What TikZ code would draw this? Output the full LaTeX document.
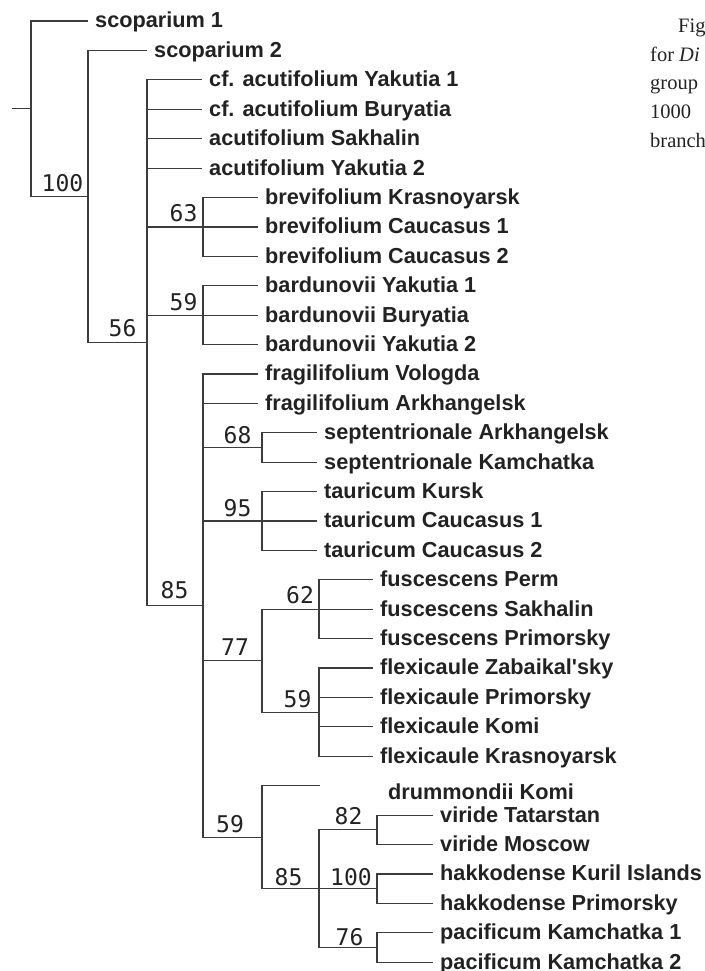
\documentclass[tikz,border=0pt]{standalone}
\usepackage{fontspec}
\newfontfamily\taxonfont{Liberation Sans}[Ligatures=TeXOff]
\newfontfamily\supportfont{DejaVu Sans Mono}
\newfontfamily\notefont{Liberation Serif}
\definecolor{inkgray}{HTML}{3C3C3C}
\definecolor{textblack}{HTML}{222222}

\begin{document}
\begin{tikzpicture}[x=1pt,y=-1pt]
\tikzset{
  taxon/.style={anchor=west,inner xsep=7pt,inner ysep=0pt,text height=17.4pt,text depth=3.5pt,
    font=\taxonfont\bfseries\fontsize{21.7}{24}\selectfont,text=textblack},
  support/.style={inner sep=0pt,font=\supportfont\fontsize{23}{26}\selectfont,text=textblack},
  note/.style={anchor=base west,inner sep=0pt,font=\notefont\fontsize{20.5}{24}\selectfont,text=textblack},
  branch/.style={draw=inkgray,line width=1.2pt}
}
\useasboundingbox (0,0) rectangle (704,971);
% internal nodes
\coordinate (n_stub) at (12,108.8);
\coordinate (n_root) at (31,108.8);
\coordinate (n_b100) at (88,196.5);
\coordinate (n_b56) at (147,342.6);
\coordinate (n_b63) at (203,226.9);
\coordinate (n_b59a) at (203,315.1);
\coordinate (n_b85a) at (203,605.5);
\coordinate (n_b68) at (262,447.4);
\coordinate (n_b95) at (262,521.0);
\coordinate (n_b77) at (262,660.7);
\coordinate (n_b62) at (319,609.2);
\coordinate (n_b59b) at (319,712.1);
\coordinate (n_b59c) at (262,837.1);
\coordinate (n_b85b) at (319,888.6);
\coordinate (n_b82) at (377,829.8);
\coordinate (n_b100b) at (377,888.6);
\coordinate (n_b76) at (377,947.4);
% taxa
\node[taxon] (t_scop1) at (88,21) {scoparium 1};
\node[taxon] (t_scop2) at (147,50.4) {scoparium 2};
\node[taxon] (t_acut1) at (202,79.8) {cf. acutifolium Yakutia 1};
\node[taxon] (t_acut2) at (202,109.2) {cf. acutifolium Buryatia};
\node[taxon] (t_acut3) at (202,138.6) {acutifolium Sakhalin};
\node[taxon] (t_acut4) at (202,168.1) {acutifolium Yakutia 2};
\node[taxon] (t_brev1) at (258,197.5) {brevifolium Krasnoyarsk};
\node[taxon] (t_brev2) at (258,226.9) {brevifolium Caucasus 1};
\node[taxon] (t_brev3) at (258,256.3) {brevifolium Caucasus 2};
\node[taxon] (t_bard1) at (258,285.7) {bardunovii Yakutia 1};
\node[taxon] (t_bard2) at (258,315.1) {bardunovii Buryatia};
\node[taxon] (t_bard3) at (258,344.5) {bardunovii Yakutia 2};
\node[taxon] (t_frag1) at (258,373.9) {fragilifolium Vologda};
\node[taxon] (t_frag2) at (258,403.3) {fragilifolium Arkhangelsk};
\node[taxon] (t_sept1) at (317,432.7) {septentrionale Arkhangelsk};
\node[taxon] (t_sept2) at (317,462.2) {septentrionale Kamchatka};
\node[taxon] (t_taur1) at (317,491.6) {tauricum Kursk};
\node[taxon] (t_taur2) at (317,521.0) {tauricum Caucasus 1};
\node[taxon] (t_taur3) at (317,550.4) {tauricum Caucasus 2};
\node[taxon] (t_fusc1) at (373,579.8) {fuscescens Perm};
\node[taxon] (t_fusc2) at (373,609.2) {fuscescens Sakhalin};
\node[taxon] (t_fusc3) at (373,638.6) {fuscescens Primorsky};
\node[taxon] (t_flex1) at (373,668.0) {flexicaule Zabaikal'sky};
\node[taxon] (t_flex2) at (373,697.4) {flexicaule Primorsky};
\node[taxon] (t_flex3) at (373,726.8) {flexicaule Komi};
\node[taxon] (t_flex4) at (373,756.3) {flexicaule Krasnoyarsk};
\coordinate (e_drum) at (320,785.7);
\node[taxon] (t_drum) at (381,792.7) {drummondii Komi};
\node[taxon] (t_viri1) at (433,815.1) {viride Tatarstan};
\node[taxon] (t_viri2) at (433,844.5) {viride Moscow};
\node[taxon] (t_hakk1) at (433,873.9) {hakkodense Kuril Islands};
\node[taxon] (t_hakk2) at (433,903.3) {hakkodense Primorsky};
\node[taxon] (t_paci1) at (433,932.7) {pacificum Kamchatka 1};
\node[taxon] (t_paci2) at (433,962.1) {pacificum Kamchatka 2};
% branches
\draw[branch] (n_stub) -- (n_root);
\draw[branch] (n_root) |- (t_scop1.west);
\draw[branch] (n_root) |- (n_b100);
\draw[branch] (n_b100) |- (t_scop2.west);
\draw[branch] (n_b100) |- (n_b56);
\draw[branch] (n_b56) |- (t_acut1.west);
\draw[branch] (n_b56) |- (t_acut2.west);
\draw[branch] (n_b56) |- (t_acut3.west);
\draw[branch] (n_b56) |- (t_acut4.west);
\draw[branch] (n_b56) |- (n_b63);
\draw[branch] (n_b56) |- (n_b59a);
\draw[branch] (n_b56) |- (n_b85a);
\draw[branch] (n_b63) |- (t_brev1.west);
\draw[branch] (n_b63) |- (t_brev2.west);
\draw[branch] (n_b63) |- (t_brev3.west);
\draw[branch] (n_b59a) |- (t_bard1.west);
\draw[branch] (n_b59a) |- (t_bard2.west);
\draw[branch] (n_b59a) |- (t_bard3.west);
\draw[branch] (n_b85a) |- (t_frag1.west);
\draw[branch] (n_b85a) |- (t_frag2.west);
\draw[branch] (n_b85a) |- (n_b68);
\draw[branch] (n_b85a) |- (n_b95);
\draw[branch] (n_b85a) |- (n_b77);
\draw[branch] (n_b85a) |- (n_b59c);
\draw[branch] (n_b68) |- (t_sept1.west);
\draw[branch] (n_b68) |- (t_sept2.west);
\draw[branch] (n_b95) |- (t_taur1.west);
\draw[branch] (n_b95) |- (t_taur2.west);
\draw[branch] (n_b95) |- (t_taur3.west);
\draw[branch] (n_b77) |- (n_b62);
\draw[branch] (n_b77) |- (n_b59b);
\draw[branch] (n_b62) |- (t_fusc1.west);
\draw[branch] (n_b62) |- (t_fusc2.west);
\draw[branch] (n_b62) |- (t_fusc3.west);
\draw[branch] (n_b59b) |- (t_flex1.west);
\draw[branch] (n_b59b) |- (t_flex2.west);
\draw[branch] (n_b59b) |- (t_flex3.west);
\draw[branch] (n_b59b) |- (t_flex4.west);
\draw[branch] (n_b59c) |- (e_drum);
\draw[branch] (n_b59c) |- (n_b85b);
\draw[branch] (n_b85b) |- (n_b82);
\draw[branch] (n_b85b) |- (n_b100b);
\draw[branch] (n_b85b) |- (n_b76);
\draw[branch] (n_b82) |- (t_viri1.west);
\draw[branch] (n_b82) |- (t_viri2.west);
\draw[branch] (n_b100b) |- (t_hakk1.west);
\draw[branch] (n_b100b) |- (t_hakk2.west);
\draw[branch] (n_b76) |- (t_paci1.west);
\draw[branch] (n_b76) |- (t_paci2.west);
% bootstrap values
\node[support] (s_b100) at (62.5,183) {100};
\node[support] (s_b56) at (122.5,328) {56};
\node[support] (s_b63) at (183.5,213) {63};
\node[support] (s_b59a) at (183.5,302) {59};
\node[support] (s_b85a) at (174.5,590) {85};
\node[support] (s_b68) at (237.5,435) {68};
\node[support] (s_b95) at (237.5,508) {95};
\node[support] (s_b62) at (300,595) {62};
\node[support] (s_b77) at (235,647) {77};
\node[support] (s_b59b) at (297.5,699) {59};
\node[support] (s_b59c) at (230,824) {59};
\node[support] (s_b85b) at (288.5,877) {85};
\node[support] (s_b82) at (348.5,816) {82};
\node[support] (s_b100b) at (351,877) {100};
\node[support] (s_b76) at (349.5,937) {76};
% caption, cut at the right edge
\begin{scope}
\clip (0,0) rectangle (704,971);
\node[note] (c_fig) at (678,33) {Fig};
\node[note] (c_for) at (650,62) {for \textit{Di}};
\node[note] (c_group) at (650,90) {group};
\node[note] (c_num) at (650,118) {1000};
\node[note] (c_branch) at (650,147) {branch};
\end{scope}
\end{tikzpicture}
\end{document}
